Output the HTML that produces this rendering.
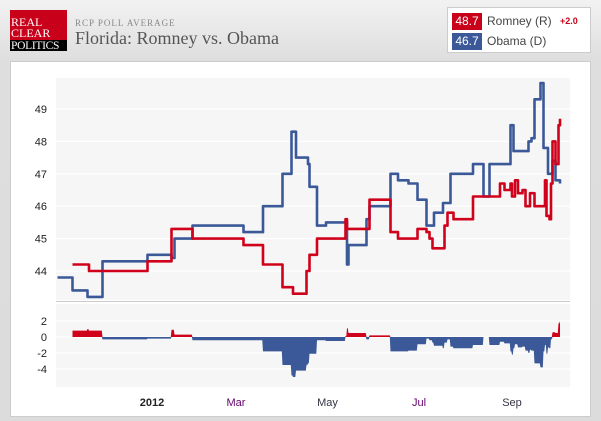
<!DOCTYPE html>
<html><head><meta charset="utf-8">
<style>
html,body{margin:0;padding:0}
body{width:601px;height:421px;overflow:hidden;background:linear-gradient(#f2f2f2,#dedede 60px,#dcdcdc);font-family:"Liberation Sans",sans-serif;position:relative}
.abs{position:absolute}
</style></head><body>
<div class="abs" style="left:10px;top:10px;width:57px;height:41px;background:#c8001a;font-family:'Liberation Serif',serif;color:#fff;font-size:12px;line-height:11px;overflow:hidden">
  <div style="padding:7px 0 0 1px">REAL<br>CLEAR</div>
  <div class="abs" style="left:0;top:30px;width:57px;height:11px;background:#000;font-size:11.5px;line-height:12px;padding-left:1px;letter-spacing:-0.3px">POLITICS</div>
</div>
<div class="abs" style="left:75px;top:18px;font-family:'Liberation Serif',serif;font-size:9px;letter-spacing:1px;color:#888">RCP POLL AVERAGE</div>
<div class="abs" style="left:75px;top:28px;font-family:'Liberation Serif',serif;font-size:18px;color:#555">Florida: Romney vs. Obama</div>
<div class="abs" style="left:447px;top:7px;width:142px;height:44px;background:#fff;border:1px solid #ccc">
  <div class="abs" style="left:4px;top:5px;width:200px;height:17px">
    <span class="abs" style="left:0;top:0;width:30px;height:17px;background:#c8001a;color:#fff;font-size:12px;line-height:17px;text-align:center">48.7</span>
    <span class="abs" style="left:35px;top:1px;font-size:12px;color:#444">Romney (R)</span>
    <span class="abs" style="left:108px;top:3px;font-size:9px;font-weight:bold;color:#c8001a">+2.0</span>
  </div>
  <div class="abs" style="left:4px;top:25px;width:200px;height:17px">
    <span class="abs" style="left:0;top:0;width:30px;height:17px;background:#3b5998;color:#fff;font-size:12px;line-height:17px;text-align:center">46.7</span>
    <span class="abs" style="left:35px;top:1px;font-size:12px;color:#444">Obama (D)</span>
  </div>
</div>
<div class="abs" style="left:10px;top:61px;width:579px;height:354px;background:#fff;border:1px solid #ccc"></div>
<svg class="abs" style="left:0;top:0" width="601" height="421" id="chart"></svg>
<script>
const rDays=[-49,-38,1,17,31,65,78,91,98,107,109,114,133,134,149,163,168,181,187,189,191,199,201,205,218,236,239,243,244,246,248,251,253,256,259,263,266,267,269,270,271,273,275,276];
const rVals=[44.2,44.0,44.3,45.3,45.0,44.8,44.2,43.5,43.3,44.0,44.5,45.0,45.6,45.3,46.2,45.2,45.0,45.3,45.2,45.0,44.7,45.4,45.8,45.6,46.3,46.7,46.5,46.7,46.3,46.8,46.4,46.5,46.0,46.4,46.0,46.0,46.8,45.7,45.6,46.7,48.0,47.3,48.5,48.7];
const oDays=[-59,-49,-39,-29,1,17,19,31,65,78,91,97,100,108,109,114,120,132,134,135,147,149,163,168,175,181,187,192,198,203,218,225,229,243,245,255,257,259,263,265,268,271,273,276];
const oVals=[43.8,43.4,43.2,44.3,44.5,44.4,45.0,45.4,45.2,46.0,47.0,48.3,47.5,47.3,46.6,45.4,45.5,45.5,44.2,44.8,45.6,46.0,47.0,46.8,46.7,46.2,45.4,45.8,46.1,47.0,47.3,46.3,47.3,48.5,47.7,48.0,48.1,49.3,49.8,47.8,47.0,47.4,46.8,46.7];
const mainTicks=[44,45,46,47,48,49];
const spreadTicks=[2,0,-2,-4];
const monthLabels=["2012","Mar","May","Jul","Sep"];
const monthDays=[0,60,121,182,244];

const NS="http://www.w3.org/2000/svg";
const svg=document.getElementById('chart');
const X=d=>146+d*1.5;
const Y=v=>109+(49-v)*32.4;
const YS=v=>337-v*8;
function mk(t,a){const e=document.createElementNS(NS,t);for(const k in a)e.setAttribute(k,a[k]);svg.appendChild(e);return e;}
let e;
e=mk('rect',{x:56,y:78,width:514,height:222,fill:'#f6f6f6'});


e=mk('rect',{x:56,y:304,width:514,height:83,fill:'#f6f6f6'});


mk('line',{x1:56,x2:570,y1:301.5,y2:301.5,stroke:'#ccc','stroke-width':1});
mainTicks.forEach(t=>{
  e=mk('line',{x1:56,x2:570,y1:Y(t),y2:Y(t),stroke:'#fff','stroke-width':1.2});
  
  
  e=mk('text',{x:47,y:Y(t)+4,'text-anchor':'end','font-size':11,fill:'#222','font-family':'Liberation Sans, sans-serif'});
  e.textContent=t;
  
  
});
spreadTicks.forEach(t=>{
  e=mk('line',{x1:56,x2:570,y1:YS(t),y2:YS(t),stroke:'#fff','stroke-width':1.2});
  
  
  e=mk('text',{x:47,y:YS(t)+4,'text-anchor':'end','font-size':11,fill:'#222','font-family':'Liberation Sans, sans-serif'});
  e.textContent=t;
  
  
});
monthLabels.forEach((m,i)=>{
  e=mk('text',{x:X(monthDays[i])+(i==0?6:0),y:406,'text-anchor':'middle','font-size':11,fill:i==0?'#222':(i%2?'#60006a':'#334'),'font-weight':i==0?'bold':'normal','font-family':'Liberation Sans, sans-serif'});
  e.textContent=m;
  
  
});
function stepPts(days,vals,f){let p=[];for(let i=0;i<days.length;i++){if(i>0)p.push([X(days[i]),f(vals[i-1])]);p.push([X(days[i]),f(vals[i])]);}return p;}
function valAt(days,vals,d){let v=null;for(let i=0;i<days.length;i++){if(days[i]<=d)v=vals[i];}return v;}
const start=Math.max(rDays[0],oDays[0]),end=Math.min(rDays[rDays.length-1],oDays[oDays.length-1]);
let posPts=[],negPts=[];
for(let d=start;d<=end;d+=0.5){
  const s=valAt(rDays,rVals,d)-valAt(oDays,oVals,d);
  posPts.push([X(d),YS(Math.max(s,0))]);
  negPts.push([X(d),YS(Math.min(s,0))]);
}
function area(pts,col,name){
  const p=pts.map(q=>q[0].toFixed(1)+','+q[1].toFixed(1));
  p.push(X(end)+','+YS(0));p.unshift(X(start)+','+YS(0));
  e=mk('polygon',{points:p.join(' '),fill:col});
  
  
}
area(negPts,'#3b5998','spread-area-obama');
area(posPts,'#d0021b','spread-area-romney');
function line(days,vals,col,name){
  const p=stepPts(days,vals,Y).map(q=>q[0].toFixed(1)+','+q[1].toFixed(1)).join(' ');
  e=mk('polyline',{points:p,fill:'none',stroke:col,'stroke-width':2.6,'stroke-linejoin':'round'});
  
  
}
line(oDays,oVals,'#3b5998','obama-line');
line(rDays,rVals,'#d0021b','romney-line');
</script>
</body></html>
